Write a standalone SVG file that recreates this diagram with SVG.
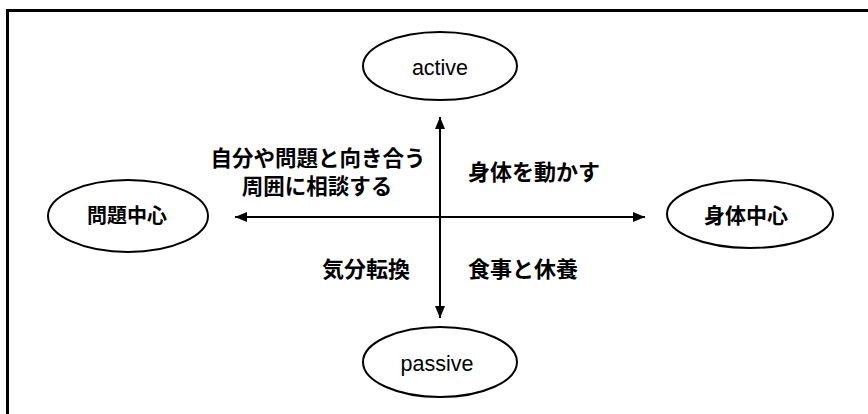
<svg xmlns="http://www.w3.org/2000/svg" width="868" height="414" viewBox="0 0 868 414">
<style>
.node ellipse{fill:#fff;stroke:#000;stroke-width:2}
.en{font-family:"Liberation Sans",Arial,sans-serif;font-size:21.5px;fill:#000;text-anchor:middle;dominant-baseline:central}
.jp{font-family:"Noto Sans CJK JP","Noto Sans",sans-serif;font-weight:bold;font-size:21px;fill:#000;text-anchor:middle;dominant-baseline:central}
.edge{stroke:#000;stroke-width:2;fill:none}
</style>
<defs>
<marker id="ah" viewBox="0 0 12 10" refX="12" refY="5" markerWidth="6" markerHeight="5" markerUnits="strokeWidth" orient="auto-start-reverse">
<path d="M0,0 L12,5 L0,10 Z" fill="#000"/>
</marker>
</defs>
<rect width="868" height="414" fill="#fff"/>
<g id="frame">
<line x1="6" y1="10.5" x2="868" y2="10.5" stroke="#000" stroke-width="3"/>
<line x1="7.5" y1="9" x2="7.5" y2="414" stroke="#000" stroke-width="3"/>
</g>
<g id="connectors">
<line class="edge" x1="440" y1="117" x2="440" y2="318" marker-start="url(#ah)" marker-end="url(#ah)"/>
<line class="edge" x1="235" y1="217" x2="645" y2="217" marker-start="url(#ah)" marker-end="url(#ah)"/>
</g>
<g id="active" class="node">
<ellipse cx="440" cy="66" rx="77" ry="34"/>
<text class="en" x="440" y="68">active</text>
</g>
<g id="passive" class="node">
<ellipse cx="440" cy="362" rx="77" ry="35"/>
<text class="en" x="437" y="364">passive</text>
</g>
<g id="mondai" class="node">
<ellipse cx="128" cy="216" rx="80" ry="36"/>
<text class="jp" x="127" y="214" style="font-size:20px">問題中心</text>
</g>
<g id="shintai" class="node">
<ellipse cx="750" cy="214" rx="83" ry="34"/>
<text class="jp" x="746" y="214">身体中心</text>
</g>
<g id="labels">
<text class="jp" x="318" y="156" style="font-size:21.5px">自分や問題と向き合う</text>
<text class="jp" x="317" y="184" style="font-size:21.5px">周囲に相談する</text>
<text class="jp" x="534" y="170" style="font-size:22px">身体を動かす</text>
<text class="jp" x="366" y="267" style="font-size:22px">気分転換</text>
<text class="jp" x="523" y="267" style="font-size:22px">食事と休養</text>
</g>
</svg>
